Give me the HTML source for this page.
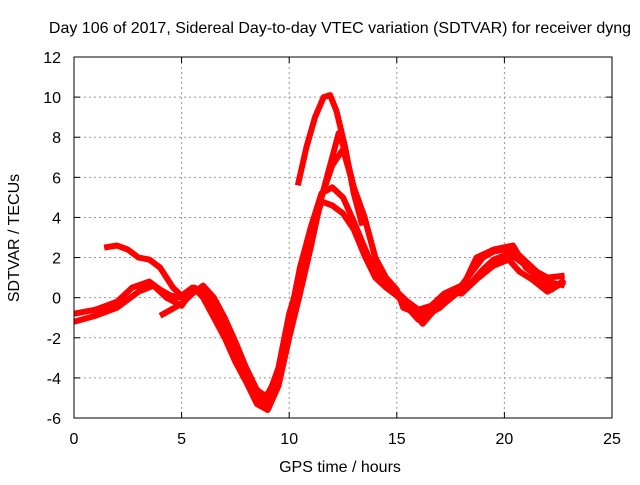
<!DOCTYPE html>
<html><head><meta charset="utf-8"><style>
body{margin:0;background:#fff}
svg text{font-family:"Liberation Sans",sans-serif;font-size:16px;fill:#000}
</style></head><body>
<svg id="chart" width="640" height="480" viewBox="0 0 640 480" xmlns="http://www.w3.org/2000/svg">
<rect width="640" height="480" fill="#fff"/>
<g id="grid"></g>
<g id="series"></g>
<rect x="74" y="57" width="538" height="361" fill="none" stroke="#000" stroke-width="1"/>
<g id="ticks"></g>
<text x="340" y="33" text-anchor="middle">Day 106 of 2017, Sidereal Day-to-day VTEC variation (SDTVAR) for receiver dyng</text>
<text x="340" y="472" text-anchor="middle">GPS time / hours</text>
<text transform="translate(19,238) rotate(-90)" text-anchor="middle">SDTVAR / TECUs</text>
</svg>
<script>
const xTicks=[0,5,10,15,20,25];
const yTicks=[-6,-4,-2,0,2,4,6,8,10,12];
const traceA=[[0,-0.8],[1,-0.6],[2,-0.2],[2.7,0.5],[3.5,0.8],[4,0.4],[4.5,0.1],[5,0],[5.5,0.4],[6,0.2],[6.5,-0.6],[7,-1.6],[7.5,-2.8],[8,-4],[8.5,-5],[9,-5.3],[9.5,-4],[10,-1.5],[10.5,1],[11,3],[11.5,4.8],[12,4.6],[12.5,4.2],[13,3.4],[13.5,2.1],[14,1],[14.5,0.5],[15,0.1],[15.5,-0.5],[16,-1.1],[16.5,-0.8],[17,-0.5],[17.5,0],[18,0.4],[18.5,0.8],[19,1.4],[19.5,1.9],[20,2.1],[20.5,2],[21,1.6],[21.5,1.2],[22,0.8],[22.8,0.6]];
const traceB=[[10.4,5.6],[10.8,7.5],[11.2,9],[11.6,10],[11.9,10.1],[12.2,9.3],[12.6,7.5],[13,5.2],[13.4,3.6]];
const traceC=[[1.4,2.5],[2,2.6],[2.5,2.4],[3,2],[3.5,1.9],[4,1.5],[4.6,0.5],[5,0.1],[5.5,0.5],[5.9,0.4],[6.5,-0.4],[7,-1.2],[7.5,-2.5],[8,-3.8],[8.5,-4.9],[9,-4.8],[9.5,-3.8],[10,-1.2],[10.5,1.5],[11,3.5],[11.5,5.2],[12,5.5],[12.5,5],[13,3.8],[13.5,2.5],[14,1.3],[14.5,0.6],[15,0.3],[15.5,-0.2],[16,-0.6],[16.6,-0.4],[17.2,0.2],[18,0.6],[18.5,1.3],[19,2],[19.5,2.3],[20,2.4],[20.6,2.2],[21,1.8],[21.5,1.3],[22,1],[22.8,1.1]];
const traceD=[[0,-1.2],[1,-0.9],[2,-0.5],[3,0.3],[3.7,0.6],[4.3,0],[5,-0.4],[5.6,0.5],[6,0],[6.5,-1],[7,-2],[7.5,-3.2],[8,-4.2],[8.5,-5.3],[9,-5.6],[9.5,-4.4],[10,-2],[10.5,0.2],[11,2.5],[11.5,5],[12,7],[12.3,8.2],[12.6,7.3],[13,5.5],[13.5,4],[14,2],[14.5,0.8],[15,0.3],[15.5,-0.3],[16.2,-1.3],[17,-0.3],[17.5,0.3],[18,0.2],[18.8,1],[19.5,1.6],[20.2,1.9],[20.7,1.3],[21.3,0.9],[22,0.3],[22.8,0.8]];
const traceE=[[4,-0.9],[4.5,-0.6],[5,-0.3],[5.5,0.2],[6,0.6],[6.5,0],[7,-1],[7.5,-2.2],[8,-3.5],[8.5,-4.6],[9,-5],[9.5,-3.5],[10,-0.8],[10.5,1],[11,3.2],[11.5,5],[12,6.6],[12.5,7.4],[13,5.5],[13.5,4],[14,2],[14.5,1],[15,0.4],[15.3,-0.5],[16,-0.8],[17.2,-0.3],[18,0.4],[18.7,2],[19.5,2.4],[20.4,2.6],[21,1.5],[21.6,1],[22.2,0.4],[22.8,0.9]];
const traces=[traceA,traceB,traceC,traceD,traceE];
const X=v=>74+v*538/25, Y=v=>418-(v+6)*361/18;
const NS="http://www.w3.org/2000/svg";
const grid=document.getElementById('grid'),ticks=document.getElementById('ticks'),ser=document.getElementById('series');
function mk(tag,attrs,parent){const e=document.createElementNS(NS,tag);for(const k in attrs)e.setAttribute(k,attrs[k]);parent.appendChild(e);return e;}
xTicks.forEach(t=>{
 if(t>0&&t<25){const g=mk('line',{x1:X(t),x2:X(t),y1:57,y2:418,stroke:'#999','stroke-dasharray':'2,3'},grid);
 
 }
 mk('line',{x1:X(t),x2:X(t),y1:418,y2:412,stroke:'#000'},ticks);
 mk('line',{x1:X(t),x2:X(t),y1:57,y2:63,stroke:'#000'},ticks);
 const tx=mk('text',{x:X(t),y:444,'text-anchor':'middle'},ticks);tx.textContent=t;
 
 
});
yTicks.forEach(t=>{
 if(t>-6&&t<12){const g=mk('line',{x1:74,x2:612,y1:Y(t),y2:Y(t),stroke:'#999','stroke-dasharray':'2,3'},grid);
 
 }
 mk('line',{x1:74,x2:80,y1:Y(t),y2:Y(t),stroke:'#000'},ticks);
 mk('line',{x1:606,x2:612,y1:Y(t),y2:Y(t),stroke:'#000'},ticks);
 const tx=mk('text',{x:61,y:Y(t)+6,'text-anchor':'end'},ticks);tx.textContent=t;
 
 
});
traces.forEach((tr,i)=>{
 const p=mk('polyline',{points:tr.map(d=>X(d[0])+','+Y(d[1])).join(' '),fill:'none',stroke:'#ff0000','stroke-width':6,'stroke-linejoin':'round','stroke-linecap':'butt'},ser);
 
 
});
</script>
</body></html>
